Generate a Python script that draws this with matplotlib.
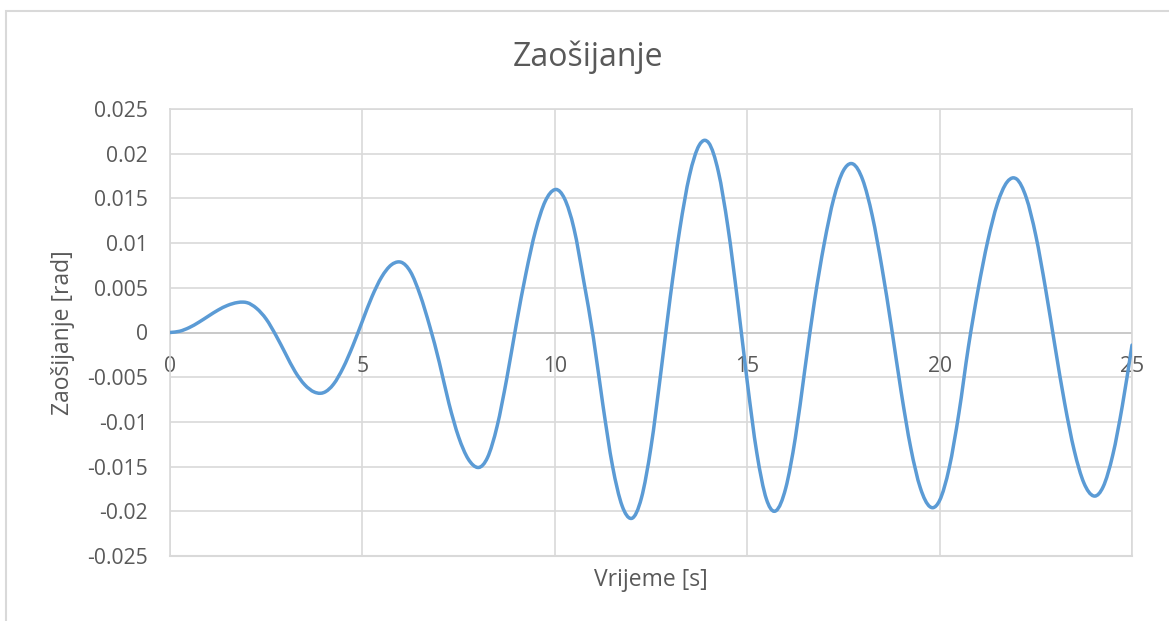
import numpy as np
import matplotlib.pyplot as plt
from matplotlib.patches import Rectangle, PathPatch
from matplotlib.path import Path

# vrijeme [s] i zaosijanje [rad]
t = [0.0, 0.25, 0.5, 0.75, 1.0, 1.25, 1.5, 1.75, 1.9, 2.0, 2.25, 2.5, 2.75,
     3.0, 3.25, 3.5, 3.75, 3.9, 4.0, 4.25, 4.5, 4.75, 5.0, 5.25, 5.5, 5.75,
     5.95, 6.0, 6.25, 6.5, 6.75, 7.0, 7.25, 7.5, 7.75, 8.0, 8.02, 8.25, 8.5,
     8.75, 9.0, 9.25, 9.5, 9.75, 10.0, 10.03, 10.25, 10.5, 10.75, 11.0,
     11.25, 11.5, 11.75, 11.98, 12.0, 12.25, 12.5, 12.75, 13.0, 13.25, 13.5,
     13.75, 13.9, 14.0, 14.25, 14.5, 14.75, 15.0, 15.25, 15.5, 15.7, 15.75,
     16.0, 16.25, 16.5, 16.75, 17.0, 17.25, 17.5, 17.7, 17.75, 18.0, 18.25,
     18.5, 18.75, 19.0, 19.25, 19.5, 19.75, 19.82, 20.0, 20.25, 20.5, 20.75,
     21.0, 21.25, 21.5, 21.75, 21.92, 22.0, 22.25, 22.5, 22.75, 23.0, 23.25,
     23.5, 23.75, 24.0, 24.03, 24.25, 24.5, 24.75, 25.0]
zaos = [0.0, 0.00014, 0.00055, 0.00115, 0.00184, 0.00251, 0.00304, 0.00335,
        0.0034, 0.00334, 0.00270, 0.00150, -0.00030,
        -0.00235, -0.00437, -0.00584, -0.00666, -0.0068, -0.00671, -0.00578,
        -0.00394, -0.00150, 0.00128, 0.00402, 0.00621, 0.00756,
        0.0079, 0.00787, 0.00679, 0.00420, 0.00070, -0.00336, -0.00795,
        -0.01168, -0.01415, -0.01510, -0.0151, -0.01400, -0.01050,
        -0.00519, 0.00094, 0.00661, 0.01140, 0.01467, 0.01598, 0.0160,
        0.01500, 0.01159, 0.00580, -0.00050,
        -0.00811, -0.01494, -0.01940, -0.0208, -0.02079, -0.01853, -0.01281,
        -0.00468, 0.00395, 0.01160, 0.01755,
        0.02093, 0.0215, 0.02121, 0.01800, 0.01176, 0.00354, -0.00547,
        -0.01347, -0.01865, -0.0200, -0.01993,
        -0.01743, -0.01181, -0.00407, 0.00355, 0.00992, 0.01500, 0.01811,
        0.0189, 0.01885, 0.01710, 0.01307,
        0.00730, 0.00056, -0.00661, -0.01290, -0.01739, -0.01949, -0.0196,
        -0.01879, -0.01513, -0.00906, -0.00157,
        0.00479, 0.01021, 0.01439, 0.01681, 0.0173, 0.01717, 0.01511, 0.01085,
        0.00499, -0.00158, -0.00791,
        -0.01322, -0.01683, -0.01828, -0.0183, -0.01726, -0.01371, -0.00817,
        -0.00141]

xticks = [0, 5, 10, 15, 20, 25]
yticks = [-0.025, -0.02, -0.015, -0.01, -0.005, 0, 0.005, 0.01, 0.015, 0.02, 0.025]
ylabels = ['-0.025', '-0.02', '-0.015', '-0.01', '-0.005', '0',
           '0.005', '0.01', '0.015', '0.02', '0.025']


def glatka_linija(x, y):
    # zagladena linija kroz tocke (kubicni Bezier segmenti, kao "smoothed line")
    x = np.asarray(x, float)
    y = np.asarray(y, float)
    m = np.gradient(y, x)
    verts = [(x[0], y[0])]
    codes = [Path.MOVETO]
    for i in range(len(x) - 1):
        h = x[i + 1] - x[i]
        verts += [(x[i] + h / 3, y[i] + m[i] * h / 3),
                  (x[i + 1] - h / 3, y[i + 1] - m[i + 1] * h / 3),
                  (x[i + 1], y[i + 1])]
        codes += [Path.CURVE4] * 3
    return Path(verts, codes)


plt.rcParams['font.family'] = ['Open Sans', 'DejaVu Sans']
siva = '#595959'
mreza = '#d9d9d9'

fig = plt.figure(figsize=(11.69, 6.21), dpi=100)
ax = fig.add_axes([170 / 1169, 1 - 556 / 621, 962 / 1169, 447 / 621])

# okvir grafikona
fig.patches.append(Rectangle((6 / 1169, -0.1), 1.2, 1 - 11 / 621 + 0.1,
                             transform=fig.transFigure, fill=False,
                             edgecolor=mreza, linewidth=1.5))

ax.add_patch(PathPatch(glatka_linija(t, zaos), facecolor='none',
                       edgecolor='#5b9bd5', linewidth=2.5, zorder=3,
                       capstyle='round', joinstyle='round'))

ax.set_xlim(0, 25)
ax.set_ylim(-0.025, 0.025)
ax.set_axisbelow(True)
ax.set_xticks(xticks)
ax.set_yticks(yticks)
ax.set_yticklabels(ylabels)
ax.grid(True, color=mreza, linewidth=1.2)
ax.axhline(0, color='#c8c8c8', linewidth=1.3, zorder=1)

for s in ['top', 'right', 'left']:
    ax.spines[s].set_color(mreza)
    ax.spines[s].set_linewidth(1.2)
ax.spines['bottom'].set_position(('data', 0))
ax.spines['bottom'].set_visible(False)
ax.plot([0, 25], [-0.025, -0.025], color=mreza, linewidth=1.5, clip_on=False, zorder=1)

ax.tick_params(axis='both', length=0, labelsize=15.2, labelcolor=siva)
ax.tick_params(axis='x', pad=17)
ax.tick_params(axis='y', pad=16)

ax.set_xlabel('Vrijeme [s]', fontsize=16.5, color=siva, labelpad=0)
ax.xaxis.set_label_coords(0.5, -0.027)
ax.set_ylabel('Zaošijanje [rad]', fontsize=16.5, color=siva)
ax.yaxis.set_label_coords(-0.099, 0.5)

fig.text(588 / 1169, 1 - 57 / 621, 'Zaošijanje', fontsize=23, color=siva,
         ha='center', va='center')

fig.savefig('out.png', dpi=100)
